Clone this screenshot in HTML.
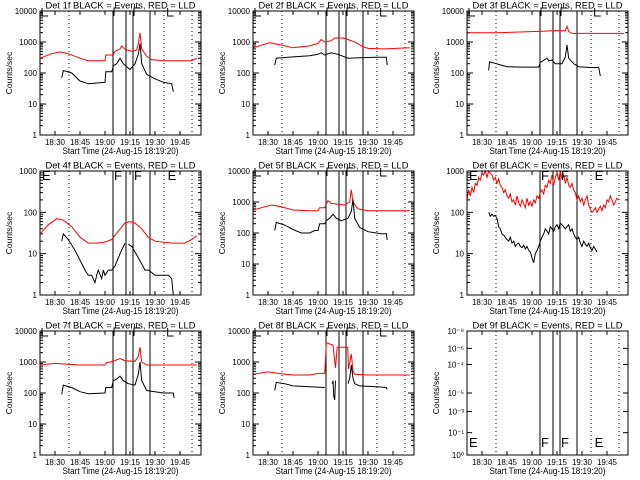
<!DOCTYPE html>
<html><head><meta charset="utf-8"><style>
html,body{margin:0;padding:0;background:#fff;}
svg{display:block;font-family:"Liberation Sans",sans-serif;}
</style></head><body>
<svg id="c" width="640" height="480" viewBox="0 0 640 480"></svg>
<script>
// ---- data (time = minutes after 18:00) ----
const tickTimes = [30,45,60,75,90,105];
const tickLabels = ["18:30","18:45","19:00","19:15","19:30","19:45"];
const dottedTimes = [38.4,95.4,112.2];
const solidTimes = [64.8,72.6,76.8,87];
const markerTimes = [21.6,64.8,76.8,97];
const markerLetters = ["E","F","F","E"];

const red1T = [21,28,33,38,45,50,60,60.5,65,66,69,70,72,76,79,80,81,82,85,88,95,112,115];
const red1 = [300,420,480,420,300,250,250,380,380,500,600,750,580,500,550,900,2000,600,350,270,250,250,300];
const blk1T = [34,35,40,45,50,60,60.5,64,65,67,69,71,75,78,80,81,82,85,90,95,100,101];
const blk1 = [70,120,100,55,45,50,110,110,170,200,300,200,130,200,400,900,200,90,65,50,45,25];

const red2T = [21,31,38,45,50,55,60,62,64,68,70,75,78,82,86,90,100,115];
const red2 = [650,950,800,650,700,750,900,1200,1000,1100,1350,1350,1200,1000,750,620,600,650];
const blk2T = [34,35,45,55,60,62,64,68,72,78,85,95,101,101.5];
const blk2 = [180,300,330,360,400,450,380,450,400,300,310,320,320,180];

const red3T = [21,40,64,72,80,81,82,84,115];
const red3 = [2000,2000,2200,2300,2300,3200,2200,1900,1900];
const blk3T = [34,34.5,40,45,55,64,65,69,70,72,74,78,80,81,82,85,88,95,100,101];
const blk3 = [120,230,190,160,155,155,220,300,250,260,200,200,330,800,300,200,160,150,150,80];

const red4T = [21,26,31,35,40,45,50,55,60,64,68,72,75,78,82,86,90,100,108,112,115];
const red4 = [30,50,70,65,45,25,18,18,19,22,35,55,60,55,40,25,20,18,18,22,27];
const blk4T = [34,35,38,42,45,48,50,52,54,55,56,58,59,60,62,64,66,69,72,72.5,74,76,80,84,86,88,90,95,98,100,101];
const blk4 = [20,30,22,12,7,4,3,3,2,3,4,2.5,4,3,4,4,5,10,18,null,17,15,8,4,4,3.5,3,3,3,2.5,1];

const red5T = [21,28,32,38,45,55,60,61,64,66,68,72,76,79,80,81,84,90,115];
const red5 = [550,700,800,700,550,520,520,650,650,1100,900,850,800,1000,2500,1000,600,520,520];
const blk5T = [34,35,40,45,50,55,58,60,61,64,65,67,69,71,74,78,80,81,82,85,90,98,101,101.5];
const blk5 = [120,220,180,130,100,100,120,120,200,200,250,300,400,300,250,300,500,1200,300,150,110,95,95,60];

const red6Start = 21;
const red6 = [200,350,250,400,300,500,450,700,600,900,800,1000,700,1000,900,800,600,700,500,650,450,400,300,350,250,220,280,180,200,150,250,170,140,200,160,130,220,150,180,140,200,170,250,220,300,350,280,450,400,600,500,800,450,700,900,600,1000,650,800,500,700,450,400,500,350,300,200,250,180,220,150,200,250,150,120,100,110,130,100,120,140,110,150,130,200,180,250,200,150,180,220,200];
const blk6Start = 34;
const blk6 = [100,80,90,80,85,70,45,40,30,28,25,22,20,25,18,20,15,17,18,15,14,16,13,15,12,11,8,6,10,12,15,20,25,30,40,35,30,45,40,35,45,50,40,55,50,45,40,45,50,35,40,30,25,22,25,18,15,20,17,15,18,14,12,15,13,11];

const red7T = [21,30,38,45,60,61,65,69,72,78,80,81,82,85,115];
const red7 = [800,900,850,800,800,950,1050,1300,1100,1050,1500,3000,1000,800,800];
const blk7T = [34,35,40,45,50,60,60.5,64,65,67,69,71,74,78,80,81,82,85,90,95,101,101.5];
const blk7 = [90,180,150,110,95,100,150,150,250,280,350,250,200,180,400,1000,250,120,110,100,100,70];

const red8T = [21,30,38,45,55,60,64,64.5,65,69,70.5,71.5,77.8,78.3,80,81,82,90,115];
const red8 = [400,480,420,380,380,430,430,1200,4200,3500,650,3000,3000,600,1800,500,400,380,380];
const blk8T = [34,35,40,45,55,64,64.5,68.5,69,69.5,70,70.5,71,78,79,80,81,82,85,95,101,101.5];
const blk8 = [120,220,200,170,160,150,null,200,250,80,60,250,null,200,300,800,300,200,170,160,150,130];

const p9Labels = ["10\u207B\u2078","10\u207B\u2076","10\u207B\u2074","10\u207B\u2075","10\u207B\u00B3","10\u207B\u00B9","10\u2070"];
const p9LabelFrac = [0,0.14,0.27,0.5,0.65,0.82,1];

// ---- layout ----
const NS="http://www.w3.org/2000/svg";
const svg=document.getElementById('c');
const colX=[40,253,467], rowY=[11,171,331], W=161, H=124;
const T0=21, T1=117.6;
function mk(tag,attrs,parent){const e=document.createElementNS(NS,tag);for(const k in attrs)e.setAttribute(k,attrs[k]);(parent||svg).appendChild(e);return e;}

function xScale(L,t){return L+(t-T0)/(T1-T0)*W;}
function yScale(T,maxE,v){return T+H-(Math.log10(v))/maxE*H;}

function drawSeries(g,L,T,maxE,times,vals,color,name){
  let d="",pen=false;
  for(let i=0;i<vals.length;i++){
    if(vals[i]==null){pen=false;continue;}
    const x=xScale(L,times[i]).toFixed(1), y=yScale(T,maxE,vals[i]).toFixed(1);
    d+=(pen?"L":"M")+x+" "+y+" "; pen=true;
  }
  const p=mk('path',{d:d,fill:'none',stroke:color,'stroke-width':1},g);
  
  
}

function panel(idx,maxE,series,letterMode){
  const r=Math.floor(idx/3), c=idx%3, L=colX[c], T=rowY[r];
  const g=mk('g',{});
  
  
  const ti=mk('text',{x:L+80.5,y:T-2.5,'text-anchor':'middle','font-size':'9','textLength':'150','lengthAdjust':'spacingAndGlyphs'},g);
  ti.textContent="Det "+(idx+1)+"f BLACK = Events, RED = LLD";
  
  
  const yt=mk('text',{x:0,y:0,'text-anchor':'middle','font-size':'8.5',transform:`translate(${L-28},${T+H/2}) rotate(-90)`},g);
  yt.textContent="Counts/sec";
  
  
  const xt=mk('text',{x:L+80.5,y:T+H+19,'text-anchor':'middle','font-size':'9.5','textLength':'116','lengthAdjust':'spacingAndGlyphs'},g);
  xt.textContent="Start Time (24-Aug-15 18:19:20)";
  
  
  for(let i=0;i<tickTimes.length;i++){
    const x=xScale(L,tickTimes[i]);
    const tl=mk('text',{x:x,y:T+H+10,'text-anchor':'middle','font-size':'8'},g);
    tl.textContent=tickLabels[i];
    
    
    mk('line',{x1:x,x2:x,y1:T+H,y2:T+H-4,stroke:'#000'},g);
    mk('line',{x1:x,x2:x,y1:T,y2:T+4,stroke:'#000'},g);
  }
  if(maxE>0){
    for(let e=0;e<=maxE;e++){
      const y=yScale(T,maxE,Math.pow(10,e));
      const tl=mk('text',{x:L-3,y:y+3,'text-anchor':'end','font-size':'8'},g);
      tl.textContent=String(Math.pow(10,e));
      
      
      mk('line',{x1:L,x2:L+6,y1:y,y2:y,stroke:'#000'},g);
      mk('line',{x1:L+W,x2:L+W-6,y1:y,y2:y,stroke:'#000'},g);
      if(e<maxE)for(let m=2;m<10;m++){
        const ym=yScale(T,maxE,m*Math.pow(10,e));
        mk('line',{x1:L,x2:L+3,y1:ym,y2:ym,stroke:'#000'},g);
        mk('line',{x1:L+W,x2:L+W-3,y1:ym,y2:ym,stroke:'#000'},g);
      }
    }
  } else {
    for(let i=0;i<p9Labels.length;i++){
      const y=T+p9LabelFrac[i]*H;
      const tl=mk('text',{x:L-3,y:y+3,'text-anchor':'end','font-size':'8'},g);
      tl.textContent=p9Labels[i];
      
      
      mk('line',{x1:L,x2:L+5,y1:y,y2:y,stroke:'#000'},g);
      mk('line',{x1:L+W,x2:L+W-5,y1:y,y2:y,stroke:'#000'},g);
    }
  }
  for(const t of dottedTimes){const x=xScale(L,t);mk('line',{x1:x,x2:x,y1:T,y2:T+H,stroke:'#000','stroke-dasharray':'1,3'},g);}
  for(const t of solidTimes){const x=xScale(L,t);mk('line',{x1:x,x2:x,y1:T,y2:T+H,stroke:'#000'},g);}
  for(const s of series) drawSeries(g,L,T,maxE,s[0],s[1],s[2],s[3]);
  for(let i=0;i<markerTimes.length;i++){
    const x=xScale(L,markerTimes[i]);
    if(letterMode==='clip'){
      let d;
      if(markerLetters[i]==='E') d=`M${x+1} ${T-3} L${x+1} ${T+5} L${x+7} ${T+5}`;
      else d=`M${x+7} ${T-3} L${x+1} ${T-3} L${x+1} ${T+5}`;
      const b=mk('path',{d:d,fill:'none',stroke:'#000'},g);
      
      
      continue;
    }
    const y = letterMode==='bottom' ? T+H-8 : T+9;
    const lt=mk('text',{x:x+1,y:y,'font-size':'13'},g);
    lt.textContent=markerLetters[i];
    
    
  }
  mk('rect',{x:L,y:T,width:W,height:H,fill:'none',stroke:'#000'},g);
}

function seq(start,n){const a=[];for(let i=0;i<n;i++)a.push(start+i);return a;}

panel(0,4,[[red1T,red1,'#f00','lld-line'],[blk1T,blk1,'#000','events-line']],'clip');
panel(1,4,[[red2T,red2,'#f00','lld-line'],[blk2T,blk2,'#000','events-line']],'clip');
panel(2,4,[[red3T,red3,'#f00','lld-line'],[blk3T,blk3,'#000','events-line']],'clip');
panel(3,3,[[red4T,red4,'#f00','lld-line'],[blk4T,blk4,'#000','events-line']],'top');
panel(4,4,[[red5T,red5,'#f00','lld-line'],[blk5T,blk5,'#000','events-line']],'clip');
panel(5,3,[[seq(red6Start,red6.length),red6,'#f00','lld-line'],[seq(blk6Start,blk6.length),blk6,'#000','events-line']],'top');
panel(6,4,[[red7T,red7,'#f00','lld-line'],[blk7T,blk7,'#000','events-line']],'clip');
panel(7,4,[[red8T,red8,'#f00','lld-line'],[blk8T,blk8,'#000','events-line']],'clip');
panel(8,0,[],'bottom');
</script>
</body></html>
